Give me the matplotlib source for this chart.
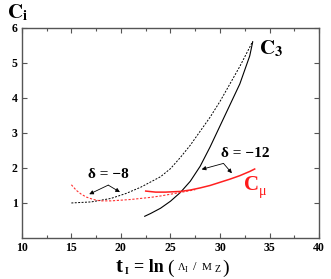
import numpy as np
import matplotlib
matplotlib.use("Agg")
import matplotlib.pyplot as plt
from matplotlib.ticker import MultipleLocator

# ---- data ----
c3_d8_x = [15, 17, 19, 20.5, 22, 24, 25, 26, 27, 28, 29, 30, 31, 32, 33, 33.3]
c3_d8_y = [1.0, 1.03, 1.13, 1.27, 1.45, 1.75, 1.98, 2.3, 2.65, 3.05, 3.45, 3.9, 4.4, 4.9, 5.45, 5.62]

c3_d12_x = [22.4, 23, 24, 25, 26, 27, 28, 29, 30, 31, 32, 33, 33.3]
c3_d12_y = [0.62, 0.7, 0.85, 1.05, 1.3, 1.62, 2.05, 2.6, 3.2, 3.8, 4.4, 5.2, 5.6]

cmu_d8_x = [15, 15.5, 16, 16.5, 17, 17.5, 18, 19, 20, 21, 22, 23, 24, 25, 26, 27.5]
cmu_d8_y = [1.52, 1.36, 1.25, 1.17, 1.12, 1.08, 1.06, 1.06, 1.08, 1.1, 1.13, 1.16, 1.2, 1.25, 1.3, 1.38]

cmu_d12_x = [22.5, 23.5, 24.5, 26, 27, 28, 29, 30, 31, 32, 33, 33.5]
cmu_d12_y = [1.34, 1.31, 1.31, 1.33, 1.37, 1.43, 1.5, 1.59, 1.68, 1.78, 1.9, 1.97]

x_ticks = [10, 15, 20, 25, 30, 35, 40]
y_ticks = [1, 2, 3, 4, 5, 6]

SERIF = ["Liberation Serif", "DejaVu Serif"]
plt.rcParams["font.family"] = SERIF
plt.rcParams["mathtext.fontset"] = "stix"

fig = plt.figure(figsize=(3.31, 2.79), dpi=100)
ax = fig.add_axes([0.066, 0.147, 0.898, 0.753])

ax.plot(c3_d8_x, c3_d8_y, color="black", lw=0.7, ls=(0, (2, 1.5)))
ax.plot(c3_d12_x, c3_d12_y, color="black", lw=0.8)
ax.plot(cmu_d8_x, cmu_d8_y, color="#ff3030", lw=0.8, ls=(0, (2, 1.5)))
ax.plot(cmu_d12_x, cmu_d12_y, color="#ff2020", lw=1.1)

ax.set_xlim(10, 40)
ax.set_ylim(0, 6)
ax.set_xticks(x_ticks)
ax.set_yticks(y_ticks)
ax.xaxis.set_minor_locator(MultipleLocator(2.5))
ax.tick_params(which="both", direction="in", top=True, right=True, color="#555555", width=0.8)
ax.tick_params(which="major", length=3.6, labelsize=8.5, pad=3)
ax.tick_params(which="minor", length=2.2)
for lab in ax.get_xticklabels() + ax.get_yticklabels():
    lab.set_fontweight("bold")
for s in ax.spines.values():
    s.set_color("#555555")
    s.set_linewidth(1.0)

# annotations
ax.text(18.7, 1.8, "δ = −8", ha="center", va="center", fontsize=11, fontweight="bold")
ap = dict(arrowstyle="-|>", color="black", lw=0.6, mutation_scale=6, shrinkA=0, shrinkB=0)
ax.annotate("", xy=(16.8, 1.25), xytext=(18.72, 1.51), arrowprops=ap)
ax.annotate("", xy=(19.9, 1.31), xytext=(18.72, 1.51), arrowprops=ap)

ax.text(32.5, 2.42, "δ = −12", ha="center", va="center", fontsize=11, fontweight="bold")
ax.annotate("", xy=(28.15, 1.96), xytext=(30.35, 2.13), arrowprops=ap)
ax.annotate("", xy=(31.2, 1.85), xytext=(30.35, 2.13), arrowprops=ap)

ax.text(33.9, 5.4, r"$\mathbf{C}_{\mathbf{3}}$", ha="left", va="center", fontsize=15)
ax.text(32.4, 1.5, "C", ha="left", va="center", fontsize=15, fontweight="bold", color="#ff1a1a")
ax.text(33.95, 1.33, "μ", ha="left", va="center", fontsize=10, color="#ff1a1a")

fig.text(0.02, 0.953, r"$\mathbf{C}_{\mathbf{i}}$", ha="left", va="center", fontsize=15)

# x label built from pieces
W, H = 331.0, 279.0
def ft(px, py, s, size, **kw):
    fig.text(px / W, 1 - py / H, s, fontsize=size, ha="left", va="baseline", **kw)

base = 272
ft(116, base, "t", 15, fontweight="bold")
ft(125, base + 2, "I", 7, fontweight="bold")
ft(134, base, "= ln", 13, fontweight="bold")
ft(167, base + 1, "(", 14)
ft(178, base - 2, "Λ", 7.5)
ft(185, base, "I", 6)
ft(193, base - 2, "/", 9)
ft(202, base - 2, "M", 8)
ft(215, base, "Z", 7)
ft(222, base + 1, ")", 14)

fig.savefig("out.png", dpi=100)
